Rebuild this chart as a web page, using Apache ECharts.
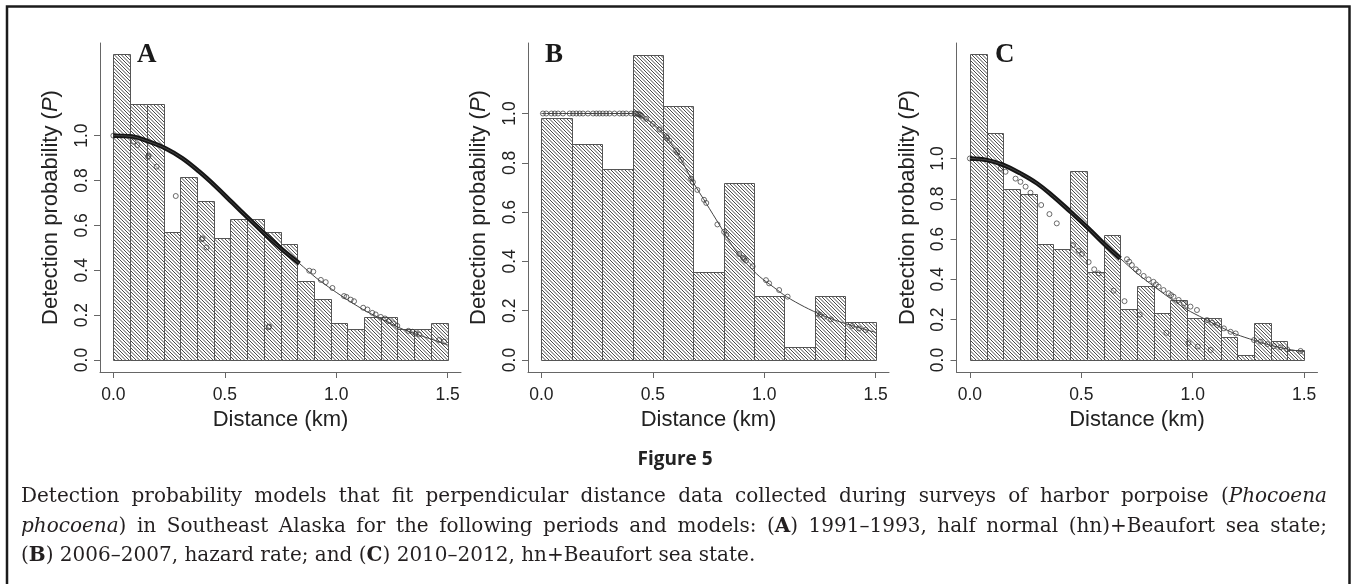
<!DOCTYPE html>
<html>
<head>
<meta charset="utf-8">
<script src="https://cdn.jsdelivr.net/npm/echarts@6/dist/echarts.min.js"></script>
<style>
html, body { margin: 0; padding: 0; background: #fff; }
#main { width: 1351px; height: 584px; }
</style>
</head>
<body>
<div id="main"></div>
<script>
// ---- A: 1991-1993, hn + Beaufort ----
const aEdges = [0, 0.075, 0.15, 0.225, 0.3, 0.375, 0.45, 0.525, 0.6, 0.675, 0.75,
  0.825, 0.9, 0.975, 1.05, 1.125, 1.2, 1.275, 1.35, 1.425, 1.5];
const aHeights = [1.363, 1.143, 1.143, 0.572, 0.816, 0.707, 0.542, 0.627, 0.627, 0.572,
  0.517, 0.354, 0.270, 0.163, 0.137, 0.190, 0.190, 0.137, 0.137, 0.163];
const aCurveX = [0, 0.085, 0.16, 0.235, 0.31, 0.385, 0.46, 0.535, 0.61, 0.686, 0.76,
  0.835, 0.91, 0.985, 1.06, 1.135, 1.21, 1.285, 1.36, 1.435, 1.5];
const aCurveY = [1.0, 0.996, 0.973, 0.943, 0.899, 0.840, 0.773, 0.700, 0.628, 0.556, 0.490,
  0.430, 0.366, 0.312, 0.262, 0.217, 0.180, 0.143, 0.115, 0.090, 0.068];
const aBandEnd = 0.85;
const aDotX = [0, 0.879, 0.897, 0.931, 0.953, 0.983, 1.035, 1.046, 1.065, 1.08, 1.121, 1.14,
  1.162, 1.177, 1.2, 1.219, 1.237, 1.255, 1.274, 1.324, 1.342, 1.357, 1.372, 1.462, 1.484];
const aDotY = [1.0, 0.398, 0.394, 0.357, 0.347, 0.321, 0.285, 0.281, 0.269, 0.262, 0.233, 0.225,
  0.210, 0.203, 0.192, 0.185, 0.173, 0.163, 0.152, 0.130, 0.126, 0.118, 0.114, 0.089, 0.082];
const aOutX = [0.09, 0.108, 0.156, 0.158, 0.194, 0.28, 0.397, 0.400, 0.418, 0.697, 0.699];
const aOutY = [0.973, 0.958, 0.906, 0.910, 0.862, 0.731, 0.538, 0.542, 0.502, 0.146, 0.149];

// ---- B: 2006-2007, hazard rate ----
const bEdges = [0, 0.136, 0.273, 0.409, 0.545, 0.682, 0.818, 0.955, 1.091, 1.227, 1.364, 1.5];
const bHeights = [0.980, 0.876, 0.773, 1.239, 1.031, 0.359, 0.720, 0.258, 0.051, 0.258, 0.154];
const bCurveX = [0, 0.2, 0.41, 0.448, 0.50, 0.56, 0.62, 0.68, 0.74, 0.80, 0.86, 0.92,
  0.98, 1.04, 1.10, 1.18, 1.26, 1.33, 1.41, 1.5];
const bCurveY = [1.0, 1.0, 1.0, 0.986, 0.959, 0.905, 0.824, 0.723, 0.635, 0.547, 0.459, 0.392,
  0.338, 0.297, 0.257, 0.216, 0.182, 0.158, 0.135, 0.112];
const bBandEnd = 0;
const bDotX = [0.007, 0.022, 0.045, 0.06, 0.075, 0.097, 0.127, 0.142, 0.157, 0.172, 0.187,
  0.209, 0.232, 0.247, 0.261, 0.276, 0.291, 0.306, 0.328, 0.351, 0.366, 0.381, 0.403,
  0.418, 0.425, 0.433, 0.44, 0.445, 0.45,
  0.47, 0.50, 0.53, 0.56, 0.565, 0.575, 0.605, 0.61, 0.627, 0.672, 0.68, 0.70, 0.73, 0.74,
  0.79, 0.82, 0.83, 0.888, 0.905, 0.91, 0.918, 0.948, 1.008, 1.022, 1.067, 1.105,
  1.24, 1.25, 1.27, 1.30, 1.395, 1.425, 1.455];
const bDotY = [1, 1, 1, 1, 1, 1, 1, 1, 1, 1, 1,
  1, 1, 1, 1, 1, 1, 1, 1, 1, 1, 1, 1,
  1, 1, 0.998, 0.996, 0.994, 0.99,
  0.978, 0.958, 0.935, 0.908, 0.901, 0.89, 0.85, 0.842, 0.812, 0.736, 0.722, 0.69, 0.65, 0.637,
  0.55, 0.52, 0.508, 0.43, 0.415, 0.41, 0.403, 0.38, 0.324, 0.311, 0.284, 0.257,
  0.189, 0.184, 0.176, 0.165, 0.138, 0.128, 0.122];
const bOutX = [];
const bOutY = [];

// ---- C: 2010-2012, hn + Beaufort ----
const cEdges = [0, 0.075, 0.15, 0.225, 0.3, 0.375, 0.45, 0.525, 0.6, 0.675, 0.75,
  0.825, 0.9, 0.975, 1.05, 1.125, 1.2, 1.275, 1.35, 1.425, 1.5];
const cHeights = [1.516, 1.124, 0.848, 0.826, 0.574, 0.552, 0.940, 0.435, 0.618, 0.251,
  0.367, 0.231, 0.298, 0.207, 0.207, 0.112, 0.023, 0.182, 0.093, 0.050];
const cCurveX = [0, 0.078, 0.152, 0.227, 0.302, 0.376, 0.451, 0.525, 0.60, 0.675, 0.75,
  0.824, 0.899, 0.973, 1.048, 1.123, 1.197, 1.272, 1.347, 1.421, 1.496];
const cCurveY = [1.0, 0.992, 0.967, 0.926, 0.876, 0.810, 0.736, 0.661, 0.579, 0.504, 0.430,
  0.367, 0.306, 0.251, 0.207, 0.165, 0.127, 0.099, 0.074, 0.055, 0.041];
const cBandEnd = 0.68;
const cDotX = [0, 0.705, 0.715, 0.727, 0.745, 0.757, 0.78, 0.802, 0.824, 0.835, 0.847, 0.869,
  0.892, 0.903, 0.914, 0.937, 0.96, 0.99, 1.019, 1.064, 1.087, 1.11, 1.14, 1.17, 1.193,
  1.275, 1.305, 1.335, 1.365, 1.394, 1.424, 1.484];
const cDotY = [1.0, 0.500, 0.488, 0.471, 0.450, 0.438, 0.417, 0.400, 0.388, 0.375, 0.364, 0.347,
  0.331, 0.322, 0.314, 0.298, 0.281, 0.265, 0.248, 0.198, 0.185, 0.174, 0.157, 0.140, 0.132,
  0.099, 0.091, 0.079, 0.069, 0.063, 0.053, 0.045];
const cOutX = [0.138, 0.16, 0.205, 0.227, 0.25, 0.272, 0.32, 0.357, 0.39, 0.463, 0.488, 0.503,
  0.533, 0.558, 0.578, 0.645, 0.694, 0.762, 0.882, 0.981, 1.023, 1.081];
const cOutY = [0.950, 0.934, 0.90, 0.884, 0.86, 0.83, 0.769, 0.724, 0.678, 0.570, 0.542, 0.526,
  0.486, 0.45, 0.43, 0.344, 0.292, 0.225, 0.135, 0.085, 0.067, 0.050];

const panelLetters = ['A', 'B', 'C'];
const xTicks = [0, 0.5, 1.0, 1.5];
const yTicks = [0, 0.2, 0.4, 0.6, 0.8, 1.0];
const yRanges = [[-0.0535, 1.413], [-0.0486, 1.286], [-0.0595, 1.573]];

const captionLines = [
  'Detection probability models that fit perpendicular distance data collected during surveys of harbor porpoise (*Phocoena*',
  '*phocoena*) in Southeast Alaska for the following periods and models: (**A**) 1991–1993, half normal (hn)+Beaufort sea state;',
  '(**B**) 2006–2007, hazard rate; and (**C**) 2010–2012, hn+Beaufort sea state.'
];

// layout
const gridLefts = [100, 528, 956.5];
const gridTop = 43, gridH = 329, gridW = 361;
const letterX = [137, 545, 995];
const sans = '"Liberation Sans", Arial, sans-serif';
const capFont = '"DejaVu Serif", serif';
const capSize = 20;

function makeHatch() {
  const s = 14, step = 3.5;
  const c = document.createElement('canvas');
  c.width = c.height = s;
  const g = c.getContext('2d');
  g.fillStyle = '#fff';
  g.fillRect(0, 0, s, s);
  g.strokeStyle = '#333';
  g.lineWidth = 0.9;
  for (let k = -s; k <= 2 * s; k += step) {
    g.beginPath();
    g.moveTo(k, 0);
    g.lineTo(k + s, s);
    g.stroke();
  }
  return c;
}
const hatch = { image: makeHatch(), repeat: 'repeat' };

const zip = (xs, ys) => xs.map((x, i) => [x, ys[i]]);

const panels = [
  [aEdges, aHeights, aCurveX, aCurveY, aBandEnd, aDotX, aDotY, aOutX, aOutY],
  [bEdges, bHeights, bCurveX, bCurveY, bBandEnd, bDotX, bDotY, bOutX, bOutY],
  [cEdges, cHeights, cCurveX, cCurveY, cBandEnd, cDotX, cDotY, cOutX, cOutY]
];

const grid = [], xAxis = [], yAxis = [], series = [];
panels.forEach((p, i) => {
  const [edges, heights, cx, cy, bandEnd, dx, dy, ox, oy] = p;
  grid.push({ left: gridLefts[i], top: gridTop, width: gridW, height: gridH, containLabel: false, outerBoundsMode: 'none' });
  xAxis.push({
    gridIndex: i, type: 'value', min: -0.06, max: 1.56,
    splitLine: { show: false },
    axisLine: { show: true, onZero: false, lineStyle: { color: '#666', width: 1 } },
    axisTick: { show: true, customValues: xTicks, length: 6, lineStyle: { color: '#666' } },
    axisLabel: { customValues: xTicks, formatter: v => v.toFixed(1), fontSize: 17.5, fontFamily: sans, color: '#222', margin: 14 },
    name: 'Distance (km)', nameLocation: 'middle', nameGap: 36,
    nameTextStyle: { fontSize: 22, fontFamily: sans, color: '#222' }
  });
  yAxis.push({
    gridIndex: i, type: 'value', min: yRanges[i][0], max: yRanges[i][1],
    splitLine: { show: false },
    axisLine: { show: true, onZero: false, lineStyle: { color: '#666', width: 1 } },
    axisTick: { show: true, customValues: yTicks, length: 6, lineStyle: { color: '#666' } },
    axisLabel: { customValues: yTicks, formatter: v => v.toFixed(1), rotate: 90, fontSize: 17.5, fontFamily: sans, color: '#222', margin: 9 },
    name: 'Detection probability ({i|P})', nameLocation: 'middle', nameGap: 38,
    nameTextStyle: {
      fontSize: 22, fontFamily: sans, color: '#222',
      rich: { i: { fontSize: 22, fontFamily: sans, color: '#222', fontStyle: 'italic' } }
    }
  });
  series.push({
    type: 'custom', xAxisIndex: i, yAxisIndex: i, silent: true,
    data: heights.map((h, k) => [edges[k], edges[k + 1], h]),
    encode: { x: [0, 1], y: 2 },
    renderItem: (params, api) => {
      const tl = api.coord([api.value(0), api.value(2)]);
      const br = api.coord([api.value(1), 0]);
      return {
        type: 'rect',
        shape: { x: Math.round(tl[0]) + 0.5, y: Math.round(tl[1]) + 0.5, width: Math.round(br[0]) - Math.round(tl[0]), height: Math.round(br[1]) - Math.round(tl[1]) },
        style: { fill: hatch, stroke: '#555', lineWidth: 1 }
      };
    }
  });
  const curve = zip(cx, cy);
  if (bandEnd > 0) {
    series.push({
      type: 'line', xAxisIndex: i, yAxisIndex: i, silent: true, smooth: 0.4, symbol: 'none',
      data: curve.filter(d => d[0] <= bandEnd),
      lineStyle: { color: '#151515', width: 4.5 }
    });
  }
  series.push({
    type: 'line', xAxisIndex: i, yAxisIndex: i, silent: true, smooth: 0.3, symbol: 'none',
    data: curve, lineStyle: { color: '#444', width: 1 }
  });
  series.push({
    type: 'scatter', xAxisIndex: i, yAxisIndex: i, silent: true, symbol: 'circle', symbolSize: 5,
    data: zip(dx, dy).concat(zip(ox, oy)),
    itemStyle: { color: 'rgba(0,0,0,0)', borderColor: '#333', borderWidth: 0.9 }
  });
});

// caption: justified words measured on a canvas
const ctx = document.createElement('canvas').getContext('2d');
function segFont(kind) {
  if (kind === 'i') return 'italic ' + capSize + 'px ' + capFont;
  if (kind === 'b') return 'bold ' + capSize + 'px ' + capFont;
  return capSize + 'px ' + capFont;
}
function parseWord(w) {
  return w.split(/(\*\*[^*]+\*\*|\*[^*]+\*)/).filter(Boolean).map(s => {
    if (s.startsWith('**')) return { t: s.slice(2, -2), k: 'b' };
    if (s.startsWith('*')) return { t: s.slice(1, -1), k: 'i' };
    return { t: s, k: 'r' };
  });
}
function measure(seg) { ctx.font = segFont(seg.k); return ctx.measureText(seg.t).width; }

const graphic = [];
graphic.push({
  type: 'rect', silent: true,
  shape: { x: 7, y: 6.5, width: 1342.5, height: 640 },
  style: { fill: 'none', stroke: '#1b1b1b', lineWidth: 2.5 }
});
panelLetters.forEach((l, i) => {
  graphic.push({
    type: 'text', x: letterX[i], y: 55, silent: true,
    style: { text: l, font: 'bold 27px "Liberation Serif", serif', fill: '#1a1a1a', verticalAlign: 'middle' }
  });
});
graphic.push({
  type: 'text', x: 675, y: 460, silent: true,
  style: { text: 'Figure 5', font: 'bold 19px "Open Sans", sans-serif', fill: '#222', align: 'center', verticalAlign: 'middle' }
});
const capLeft = 21, capRight = 1327, capY = [497, 527, 556];
captionLines.forEach((line, li) => {
  const words = line.split(' ').map(parseWord);
  const widths = words.map(segs => segs.reduce((s, g) => s + measure(g), 0));
  const total = widths.reduce((a, b) => a + b, 0);
  ctx.font = segFont('r');
  let gap = ctx.measureText(' ').width;
  if (li < captionLines.length - 1) gap = (capRight - capLeft - total) / (words.length - 1);
  let x = capLeft;
  words.forEach((segs, wi) => {
    let sx = x;
    segs.forEach(g => {
      graphic.push({
        type: 'text', x: sx, y: capY[li], silent: true,
        style: { text: g.t, font: segFont(g.k), fill: '#231f20', verticalAlign: 'middle' }
      });
      sx += measure(g);
    });
    x += widths[wi] + gap;
  });
});

const chart = echarts.init(document.getElementById('main'), null, { renderer: 'canvas' });
chart.setOption({
  backgroundColor: '#fff',
  animation: false,
  grid, xAxis, yAxis, series, graphic
});
</script>
</body>
</html>
